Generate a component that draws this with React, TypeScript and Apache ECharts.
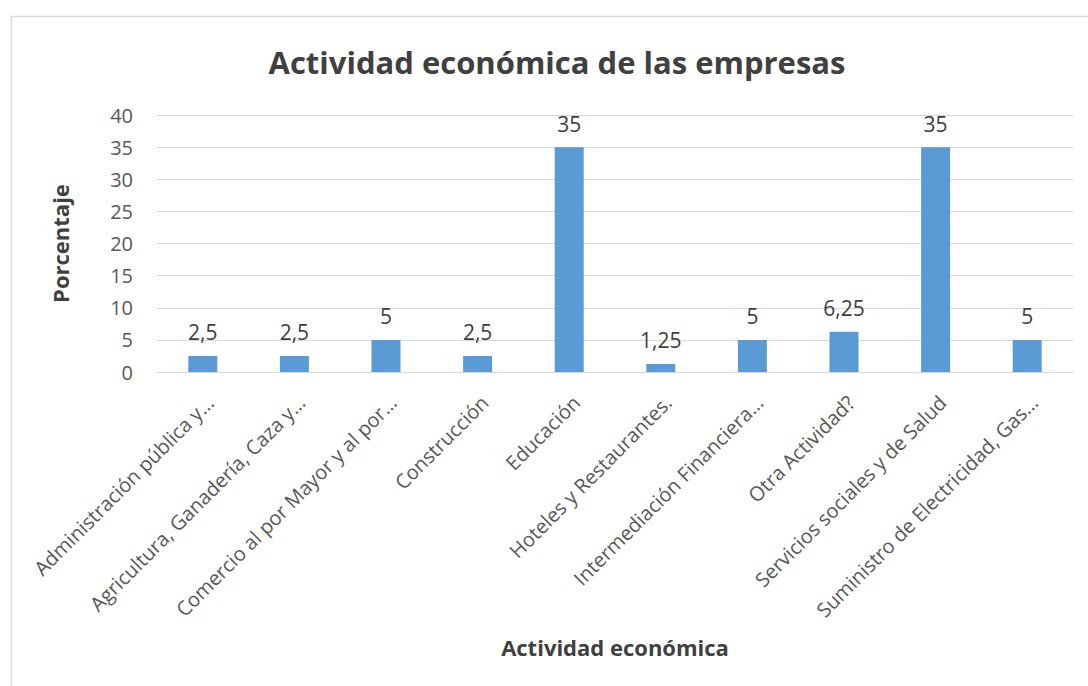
import React, { useEffect, useRef } from "react";
import * as echarts from "echarts";

const categories = [
  "Administración pública y…",
  "Agricultura, Ganadería, Caza y…",
  "Comercio al por Mayor y al por…",
  "Construcción",
  "Educación",
  "Hoteles y Restaurantes.",
  "Intermediación Financiera…",
  "Otra Actividad?",
  "Servicios sociales y de Salud",
  "Suministro de Electricidad, Gas…",
];
const values = [2.5, 2.5, 5, 2.5, 35, 1.25, 5, 6.25, 35, 5];
const yTicks = [0, 5, 10, 15, 20, 25, 30, 35, 40];

const FONT = "'Open Sans', 'Noto Sans', sans-serif";

export default function App() {
  const ref = useRef<HTMLDivElement>(null);
  useEffect(() => {
    document.body.style.margin = "0";
    const chart = echarts.init(ref.current!, null, { renderer: "svg" });
    chart.setOption({
      animation: false,
      backgroundColor: "#ffffff",
      textStyle: { fontFamily: FONT },
      graphic: [
        {
          type: "rect",
          shape: { x: 11.5, y: 16.5, width: 1100, height: 700 },
          style: { fill: "none", stroke: "#d9d9d9", lineWidth: 1.5 },
          silent: true,
          z: -1,
        },
        {
          type: "text",
          x: 557,
          y: 62,
          style: {
            text: "Actividad económica de las empresas",
            fontFamily: FONT,
            fontSize: 31,
            fontWeight: "bold",
            fill: "#404040",
            textAlign: "center",
            textVerticalAlign: "middle",
          },
        },
      ],
      grid: { left: 157, right: 15, top: 115, bottom: 314, containLabel: false },
      xAxis: {
        type: "category",
        data: categories,
        name: "Actividad económica",
        nameLocation: "middle",
        nameGap: 264,
        nameTextStyle: { fontFamily: FONT, fontSize: 22, fontWeight: "bold", color: "#404040" },
        axisLine: { show: true, lineStyle: { color: "#d9d9d9", width: 1 } },
        axisTick: { show: false },
        axisLabel: {
          interval: 0,
          rotate: 45,
          margin: 20,
          verticalAlign: "top",
          fontFamily: FONT,
          fontSize: 20,
          color: "#595959",
        },
      },
      yAxis: {
        type: "value",
        min: 0,
        max: 40,
        interval: 5,
        name: "Porcentaje",
        nameLocation: "middle",
        nameRotate: 90,
        nameGap: 86,
        nameTextStyle: { fontFamily: FONT, fontSize: 22, fontWeight: "bold", color: "#404040" },
        axisLine: { show: false },
        axisTick: { show: false },
        axisLabel: {
          margin: 24,
          fontFamily: FONT,
          fontSize: 20,
          color: "#595959",
          formatter: (v: number) => (yTicks.includes(v) ? String(v) : ""),
        },
        splitLine: { show: true, lineStyle: { color: "#d9d9d9", width: 1 } },
      },
      series: [
        {
          type: "bar",
          data: values,
          barWidth: 29,
          itemStyle: { color: "#5b9bd5" },
          label: {
            show: true,
            position: "top",
            distance: 13,
            fontFamily: FONT,
            fontSize: 21,
            color: "#404040",
            formatter: (p: any) => String(p.value).replace(".", ","),
          },
        },
      ],
    });
    return () => chart.dispose();
  }, []);
  return <div ref={ref} style={{ width: 1088, height: 686 }} />;
}
